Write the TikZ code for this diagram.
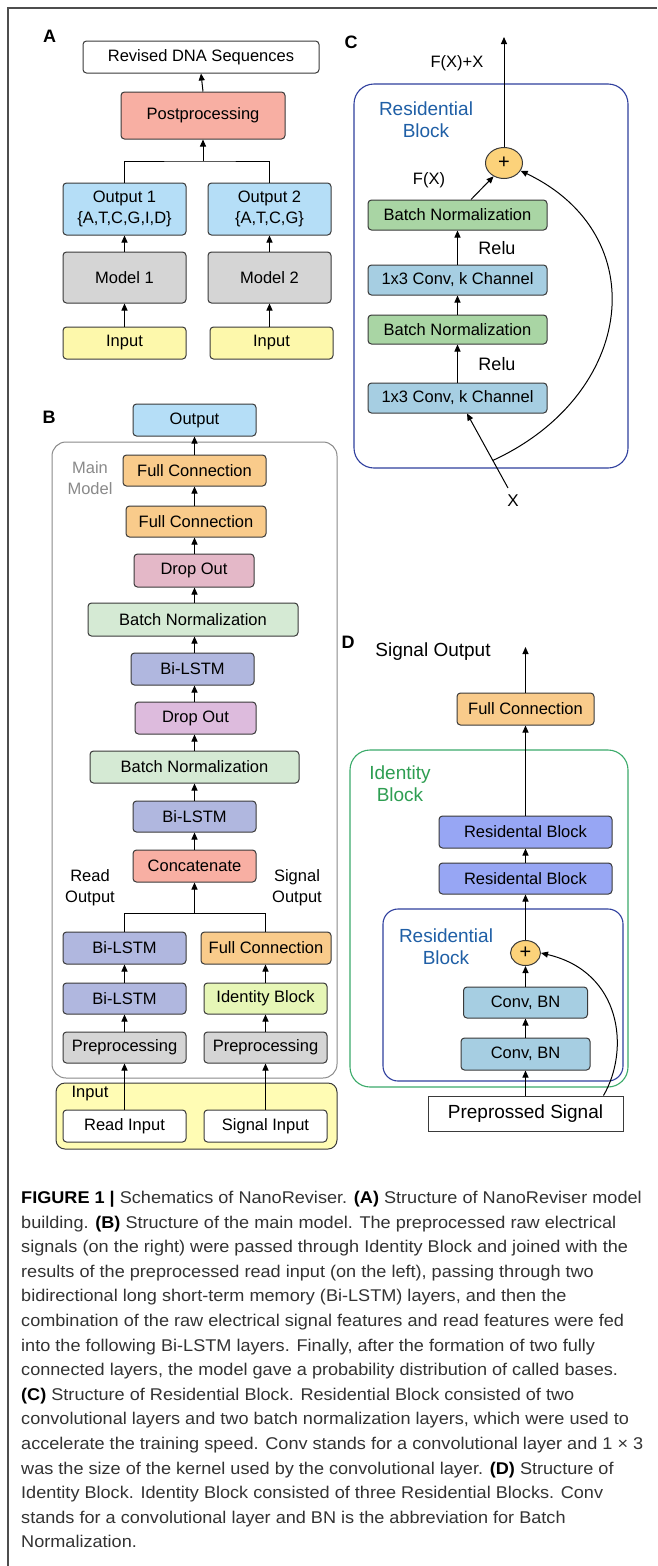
\documentclass[tikz,border=0pt]{standalone}
\usepackage{fontspec}
\setmainfont{Liberation Sans}
\newfontfamily\capfont[FakeStretch=1.065]{Liberation Sans}
\usetikzlibrary{arrows.meta,shapes.geometric,calc}
\definecolor{bordc}{HTML}{3A3A3A}
\definecolor{salmonc}{HTML}{F8AFA3}
\definecolor{outblue}{HTML}{B5DEF7}
\definecolor{mgray}{HTML}{D5D5D5}
\definecolor{inyel}{HTML}{FDF8AB}
\definecolor{inyelb}{HTML}{FFFCB4}
\definecolor{fcorange}{HTML}{F9CB8B}
\definecolor{dopink}{HTML}{E4B8C8}
\definecolor{dolav}{HTML}{DDBBDD}
\definecolor{bnlight}{HTML}{D5EAD4}
\definecolor{lstmc}{HTML}{B0B7DF}
\definecolor{idbc}{HTML}{E6F6B6}
\definecolor{bngreen}{HTML}{A9D5A4}
\definecolor{convblue}{HTML}{A6CEE2}
\definecolor{plusc}{HTML}{FCD27A}
\definecolor{rbc}{HTML}{97A6F4}
\definecolor{blueframe}{HTML}{2F3F9E}
\definecolor{bluetext}{HTML}{1F5FA6}
\definecolor{greenframe}{HTML}{3BAA6A}
\definecolor{greentext}{HTML}{2E9E52}
\definecolor{mmgray}{HTML}{8A8A8A}
\definecolor{captext}{HTML}{333333}
\newcommand\dfs{\fontsize{16.5}{21}\selectfont}
\newcommand\lfs{\fontsize{19}{22}\selectfont}
\begin{document}
\begin{tikzpicture}[x=1pt,y=-1pt,
  box/.style={draw=bordc, line width=1pt, rounded corners=3.5pt, inner sep=0pt, align=center, font=\dfs},
  arr/.style={line width=1pt, -{Triangle[length=7pt,width=6pt]}},
  conn/.style={line width=1pt},
  lbl/.style={font=\fontsize{18}{18}\selectfont\bfseries, inner sep=0pt},
  txt/.style={font=\dfs, inner sep=0pt, align=center},
  bigtxt/.style={font=\lfs, inner sep=0pt, align=center},
  capline/.style={anchor=base west, inner sep=0pt, font=\capfont\fontsize{17}{20}\selectfont, text=captext},
  plusnode/.style={ellipse, draw=bordc, line width=1pt, fill=plusc, inner sep=0pt, font=\fontsize{20}{20}\selectfont}
]
\useasboundingbox (0,0) rectangle (657,1566);
\fill[white] (0,0) rectangle (657,1566);
% frame
\draw[line width=1.3pt, color=bordc!90] (8,1566) -- (8,8) -- (657,8);

% ---------------- A ----------------
\node[lbl] (labA) at (49.5,36) {A};
\node[box, fill=white, minimum width=236, minimum height=32] (rev) at (201,57) {Revised DNA Sequences};
\node[box, fill=salmonc, minimum width=164, minimum height=47] (post) at (203,115.5) {Postprocessing};
\node[box, fill=outblue, minimum width=123, minimum height=52] (o1) at (124.5,209) {Output 1\\\{A,T,C,G,I,D\}};
\node[box, fill=outblue, minimum width=123, minimum height=52] (o2) at (269.5,209) {Output 2\\\{A,T,C,G\}};
\node[box, fill=mgray, minimum width=123, minimum height=51] (m1) at (124.5,277.5) {Model 1};
\node[box, fill=mgray, minimum width=123, minimum height=51] (m2) at (269.5,277.5) {Model 2};
\node[box, fill=inyel, minimum width=123, minimum height=32] (i1) at (124.5,343) {Input};
\node[box, fill=inyel, minimum width=123, minimum height=32] (i2) at (271.5,343) {Input};
\coordinate (jA) at (203,161);
\draw[arr] (i1.north) -- (m1.south);
\draw[arr] (i2.north -| m2.center) -- (m2.south);
\draw[arr] (m1.north) -- (o1.south);
\draw[arr] (m2.north) -- (o2.south);
\draw[conn] (o1.north) |- (jA) -| (o2.north);
\draw[arr] (jA) -- (post.south);
\draw[arr] (post.north) -- (rev.south);

% ---------------- B ----------------
\node[lbl] (labB) at (49,417) {B};
\draw[draw=mmgray, line width=1pt, rounded corners=14pt] (52,442) rectangle (337,1078);
\node[txt, text=mmgray] (mm) at (90,478) {Main\\Model};
\node[box, fill=outblue, minimum width=123, minimum height=32] (bout) at (194.5,420) {Output};
\node[box, fill=fcorange, minimum width=143, minimum height=31] (fc1) at (194.5,470.5) {Full Connection};
\node[box, fill=fcorange, minimum width=140, minimum height=31] (fc2) at (196,521.5) {Full Connection};
\node[box, fill=dopink, minimum width=120, minimum height=33] (do1) at (194,570.5) {Drop Out};
\node[box, fill=bnlight, minimum width=210, minimum height=33] (bn1) at (193,619.5) {Batch Normalization};
\node[box, fill=lstmc, minimum width=123, minimum height=32] (bl1) at (192.5,669) {Bi-LSTM};
\node[box, fill=dolav, minimum width=121, minimum height=32] (do2) at (195.5,718) {Drop Out};
\node[box, fill=bnlight, minimum width=209, minimum height=32] (bn2) at (194.5,767) {Batch Normalization};
\node[box, fill=lstmc, minimum width=123, minimum height=31] (bl2) at (194.5,816.5) {Bi-LSTM};
\node[box, fill=salmonc, minimum width=123, minimum height=32] (cat) at (194.5,866) {Concatenate};
\node[txt] (rout) at (90,888) {Read\\Output};
\node[txt] (sout) at (297,888) {Signal\\Output};
\coordinate (jB) at (194.5,913);
\node[box, fill=lstmc, minimum width=123, minimum height=32] (bl3) at (124.5,948) {Bi-LSTM};
\node[box, fill=fcorange, minimum width=130, minimum height=32] (fc3) at (266,948) {Full Connection};
\node[box, fill=lstmc, minimum width=123, minimum height=31] (bl4) at (124.5,998.5) {Bi-LSTM};
\node[box, fill=idbc, minimum width=123, minimum height=31] (idb) at (265.5,998.5) {Identity Block};
\node[box, fill=mgray, minimum width=123, minimum height=31] (pre1) at (124.5,1047.5) {Preprocessing};
\node[box, fill=mgray, minimum width=123, minimum height=31] (pre2) at (265.5,1047.5) {Preprocessing};
\draw[draw=bordc, fill=inyelb, line width=1pt, rounded corners=9pt] (56,1083) rectangle (337,1149);
\node[txt] (inlbl) at (90,1094) {Input};
\node[box, fill=white, minimum width=123, minimum height=32] (rin) at (124.5,1126) {Read Input};
\node[box, fill=white, minimum width=123, minimum height=32] (sin) at (265.5,1126) {Signal Input};
\draw[arr] (rin.north) -- (pre1.south);
\draw[arr] (sin.north) -- (pre2.south);
\draw[arr] (pre1.north) -- (bl4.south);
\draw[arr] (bl4.north) -- (bl3.south);
\draw[arr] (pre2.north) -- (idb.south);
\draw[arr] (idb.north) -- (idb.north |- fc3.south);
\draw[conn] (bl3.north) |- (jB) -| (idb.north |- fc3.north);
\draw[arr] (jB) -- (cat.south);
\draw[arr] (cat.north) -- (bl2.south);
\draw[arr] (bl2.north) -- (bl2.north |- bn2.south);
\draw[arr] (bl2.north |- bn2.north) -- (bl2.north |- do2.south);
\draw[arr] (bl2.north |- do2.north) -- (bl2.north |- bl1.south);
\draw[arr] (bl2.north |- bl1.north) -- (bl2.north |- bn1.south);
\draw[arr] (bl2.north |- bn1.north) -- (bl2.north |- do1.south);
\draw[arr] (bl2.north |- do1.north) -- (bl2.north |- fc2.south);
\draw[arr] (bl2.north |- fc2.north) -- (bl2.north |- fc1.south);
\draw[arr] (bl2.north |- fc1.north) -- (bout.south);

% ---------------- C ----------------
\node[lbl] (labC) at (351,42) {C};
\draw[draw=blueframe, line width=1.1pt, rounded corners=20pt] (354,84) rectangle (628,468);
\node[bigtxt, text=bluetext] (rbl) at (426,120) {Residential\\Block};
\node[txt] (fxx) at (457,63) {F(X)+X};
\node[plusnode, minimum width=37, minimum height=31] (plc) at (504,163) {+};
\coordinate (ctop) at (504,37);
\node[txt] (fx) at (429,180) {F(X)};
\node[box, fill=bngreen, minimum width=179, minimum height=30] (cbn1) at (457.5,215) {Batch Normalization};
\node[box, fill=convblue, minimum width=179, minimum height=30] (cconv1) at (457.5,280) {1x3 Conv, k Channel};
\node[box, fill=bngreen, minimum width=179, minimum height=29] (cbn2) at (457.5,329.5) {Batch Normalization};
\node[box, fill=convblue, minimum width=179, minimum height=30] (cconv2) at (457.5,398) {1x3 Conv, k Channel};
\node[txt, font=\fontsize{18}{18}\selectfont] (relu1) at (497,248) {Relu};
\node[txt, font=\fontsize{18}{18}\selectfont] (relu2) at (497,364) {Relu};
\node[txt, font=\fontsize{17}{17}\selectfont] (xlbl) at (513,501) {X};
\coordinate (xs) at (508,488);
\draw[arr] (plc.north) -- (ctop);
\draw[arr] ([xshift=13.5pt]cbn1.north) -- (plc.232);
\draw[arr] (cconv1.north) -- (cbn1.south);
\draw[arr] (cbn2.north) -- (cconv1.south);
\draw[arr] (cconv2.north) -- (cbn2.south);
\draw[arr] (xs) -- ([xshift=9.5pt]cconv2.south);
\coordinate (cs) at ($(xs)!0.37!([xshift=9.5pt]cconv2.south)$);
\draw[arr] (cs) .. controls (635,395) and (655,235) .. (plc.-25);

% ---------------- D ----------------
\node[lbl] (labD) at (348,642) {D};
\node[bigtxt] (sigout) at (433,652) {Signal Output};
\coordinate (dtop) at (525.5,647);
\node[box, fill=fcorange, minimum width=137, minimum height=32] (dfc) at (525.5,709) {Full Connection};
\draw[draw=greenframe, line width=1.1pt, rounded corners=20pt] (350,750) rectangle (628,1087);
\node[bigtxt, text=greentext] (idl) at (400,784) {Identity\\Block};
\node[box, fill=rbc, minimum width=173, minimum height=32] (rb1) at (525.5,832) {Residental Block};
\node[box, fill=rbc, minimum width=173, minimum height=31] (rb2) at (525.5,878.5) {Residental Block};
\draw[draw=blueframe, line width=1.1pt, rounded corners=15pt] (383,909) rectangle (623,1081);
\node[bigtxt, text=bluetext] (rbl2) at (446,947) {Residential\\Block};
\node[plusnode, minimum width=30, minimum height=25] (pld) at (525.5,953) {+};
\node[box, fill=convblue, minimum width=124, minimum height=31] (cb1) at (525.5,1002.5) {Conv, BN};
\node[box, fill=convblue, minimum width=129, minimum height=32] (cb2) at (525.5,1054) {Conv, BN};
\node[box, fill=white, rounded corners=0pt, minimum width=195, minimum height=35, font=\lfs] (ps) at (525.5,1113.5) {Preprossed Signal};
\draw[arr] (ps.north) -- (cb2.south);
\draw[arr] (cb2.north) -- (cb1.south);
\draw[arr] (cb1.north) -- (pld.south);
\draw[arr] (pld.north) -- (rb2.south);
\draw[arr] (rb2.north) -- (rb1.south);
\draw[arr] (rb1.north) -- (dfc.south);
\draw[arr] (dfc.north) -- (dtop);
\draw[arr] ([xshift=-20pt]ps.north east) .. controls (630,1050) and (622,972) .. (pld.east);

% ---------------- caption ----------------
\node[capline] (c1) at (21,1203.5) {\textbf{\color{black}FIGURE 1 |} Schematics of NanoReviser. \textbf{\color{black}(A)} Structure of NanoReviser model};
\node[capline] (c2) at (21,1228.1) {building. \textbf{\color{black}(B)} Structure of the main model. The preprocessed raw electrical};
\node[capline] (c3) at (21,1252.7) {signals (on the right) were passed through Identity Block and joined with the};
\node[capline] (c4) at (21,1277.3) {results of the preprocessed read input (on the left), passing through two};
\node[capline] (c5) at (21,1301.9) {bidirectional long short-term memory (Bi-LSTM) layers, and then the};
\node[capline] (c6) at (21,1326.5) {combination of the raw electrical signal features and read features were fed};
\node[capline] (c7) at (21,1351.1) {into the following Bi-LSTM layers. Finally, after the formation of two fully};
\node[capline] (c8) at (21,1375.7) {connected layers, the model gave a probability distribution of called bases.};
\node[capline] (c9) at (21,1400.3) {\textbf{\color{black}(C)} Structure of Residential Block. Residential Block consisted of two};
\node[capline] (c10) at (21,1424.9) {convolutional layers and two batch normalization layers, which were used to};
\node[capline] (c11) at (21,1449.5) {accelerate the training speed. Conv stands for a convolutional layer and 1 × 3};
\node[capline] (c12) at (21,1474.1) {was the size of the kernel used by the convolutional layer. \textbf{\color{black}(D)} Structure of};
\node[capline] (c13) at (21,1498.7) {Identity Block. Identity Block consisted of three Residential Blocks. Conv};
\node[capline] (c14) at (21,1523.3) {stands for a convolutional layer and BN is the abbreviation for Batch};
\node[capline] (c15) at (21,1547.9) {Normalization.};
\end{tikzpicture}
\end{document}
